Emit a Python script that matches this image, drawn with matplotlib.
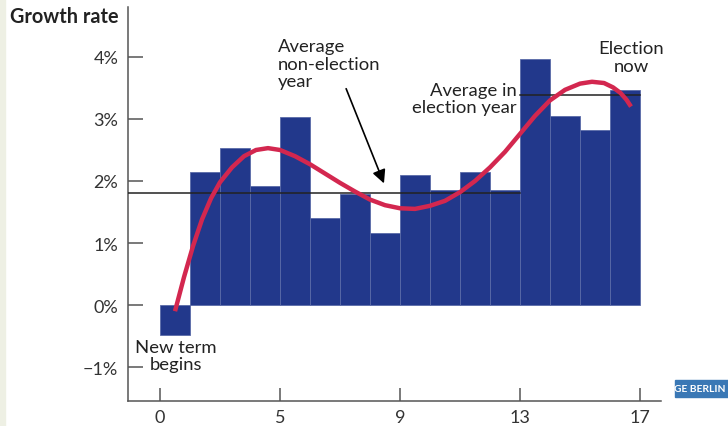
import numpy as np
import matplotlib
matplotlib.use("Agg")
import matplotlib.pyplot as plt
from matplotlib.patches import Rectangle

plt.rcParams['font.family'] = ['Lato', 'DejaVu Sans']

# growth rate per year of the term (%), one bar per year
bar_values = [-0.49, 2.14, 2.53, 1.92, 3.03, 1.41, 1.79, 1.16,
              2.10, 1.86, 2.14, 1.86, 3.96, 3.05, 2.83, 3.47]

# tick positions and labels on the time axis
tick_pos = [0, 4, 8, 12, 16]
tick_labels = ['0', '5', '9', '13', '17']
ytick_vals = [-1, 0, 1, 2, 3, 4]

# averages
avg_non_election = 1.81
avg_election = 3.38

# trend curve
curve_x = [0.5, 0.8, 1.1, 1.4, 1.7, 2.0, 2.4, 2.8, 3.2, 3.6, 4.0, 4.5, 5.0,
           5.5, 6.0, 6.5, 7.0, 7.5, 8.0, 8.5, 9.0, 9.5, 10.0, 10.5, 11.0,
           11.5, 12.0, 12.5, 13.0, 13.5, 14.0, 14.4, 14.8, 15.1, 15.35,
           15.55, 15.7]
curve_y = [-0.10, 0.45, 0.95, 1.38, 1.72, 1.98, 2.22, 2.40, 2.50, 2.53, 2.50,
           2.40, 2.27, 2.12, 1.97, 1.83, 1.70, 1.61, 1.56, 1.55, 1.60, 1.68,
           1.82, 2.00, 2.22, 2.47, 2.76, 3.05, 3.30, 3.47, 3.57, 3.60, 3.58,
           3.51, 3.42, 3.31, 3.20]

navy = '#22388b'
red = '#d3274f'
txt = '#222222'

fig = plt.figure(figsize=(7.28, 4.27), dpi=100)
ax = fig.add_axes([128 / 728, 1 - 402 / 427, (661 - 128) / 728, (402 - 8) / 427])

# bars
ax.bar(np.arange(len(bar_values)), bar_values, width=1, align='edge',
       color=navy, edgecolor='#5a6aa8', linewidth=0.6, zorder=2)

# average lines
xmin, xmax = -1.067, 16.7
ax.plot([xmin, 12], [avg_non_election] * 2, color=txt, lw=1.1, zorder=3)
ax.plot([12, 16], [avg_election] * 2, color=txt, lw=1.1, zorder=3)

# trend curve
ax.plot(curve_x, curve_y, color=red, lw=3.2, solid_capstyle='butt',
        solid_joinstyle='round', zorder=4)

ax.set_xlim(xmin, xmax)
ax.set_ylim(-1.548, 4.806)

ax.spines['top'].set_visible(False)
ax.spines['right'].set_visible(False)
for s in ['left', 'bottom']:
    ax.spines[s].set_color('#555555')
    ax.spines[s].set_linewidth(1.1)

ax.set_xticks(tick_pos)
ax.set_xticklabels(tick_labels)
ax.set_yticks(ytick_vals)
ax.set_yticklabels([('\u2212%d%%' % -v) if v < 0 else '%d%%' % v for v in ytick_vals])
ax.tick_params(axis='x', direction='in', length=9.5, width=1.1, color='#555555',
               pad=6, labelsize=13, labelcolor='#333333')
ax.tick_params(axis='y', direction='in', length=11, width=1.1, color='#555555',
               pad=7, labelsize=13, labelcolor='#333333')

# annotations
fs = 13.3
ax.text(3.93, 4.30, 'Average\nnon-election\nyear', ha='left', va='top',
        fontsize=fs, color=txt, linespacing=1.1)
ax.annotate('', xy=(7.5, 1.92), xytext=(6.17, 3.53),
            arrowprops=dict(arrowstyle='-|>', color='black', lw=1.2,
                            mutation_scale=20))
ax.text(11.9, 3.60, 'Average in\nelection year', ha='right', va='top',
        multialignment='right', fontsize=fs, color=txt, linespacing=1.1)
ax.text(15.7, 4.27, 'Election\nnow', ha='center', va='top',
        fontsize=fs, color=txt, linespacing=1.1)
ax.text(0.53, -0.55, 'New term\nbegins', ha='center', va='top',
        fontsize=fs, color=txt, linespacing=1.05)

fig.text(10 / 728, 1 - 17 / 427, 'Growth rate', ha='left', va='center',
         fontsize=14.3, fontweight='bold', color=txt)

# faint strip at the left edge and cropped badge at the bottom right
fig.patches.append(Rectangle((0, 0), 5 / 728, 1, transform=fig.transFigure,
                             color='#eef0e4', zorder=0))
fig.patches.append(Rectangle((675 / 728, 1 - 398 / 427), 53 / 728, 17 / 427,
                             transform=fig.transFigure, color='#3a78b5', zorder=5))
fig.text(726 / 728, 1 - 389.5 / 427, 'GE BERLIN', ha='right', va='center',
         fontsize=7.4, fontweight='bold', color='white', zorder=6)

fig.savefig('out.png', dpi=100)
